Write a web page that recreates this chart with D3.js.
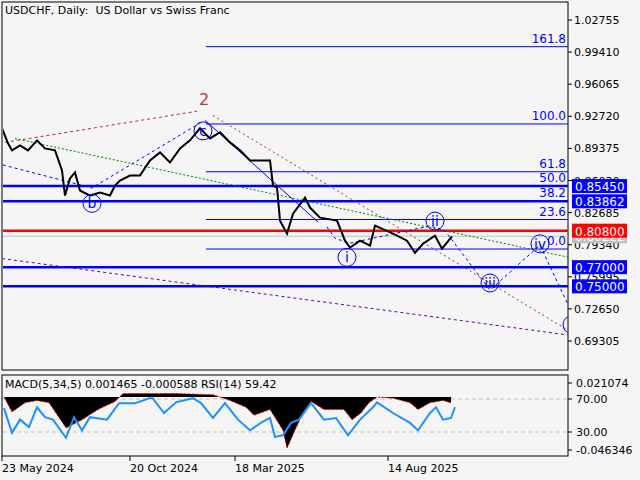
<!DOCTYPE html>
<html><head><meta charset="utf-8">
<script src="https://cdnjs.cloudflare.com/ajax/libs/d3/7.8.5/d3.min.js"></script>
<style>body{margin:0;background:#f5f5f5}svg{font-family:"DejaVu Sans",sans-serif}</style>
</head><body>
<script>
// bar index, close
var priceBars = [0,6,10,18,26,35,43,53,60,63,68,73,78,88,98,108,113,118,128,138,148,158,168,178,188,198,208,218,228,238,248,258,268,271,275,278,285,291,303,308,318,335,343,348,358,368,373,391,405,413,421,433,440,450];
var priceClose = [0.9147,0.8990,0.8917,0.8969,0.8917,0.9021,0.8937,0.8917,0.8708,0.8446,0.8624,0.8687,0.8499,0.8446,0.8478,0.8446,0.8551,0.8603,0.8655,0.8655,0.8812,0.8896,0.8791,0.8937,0.9021,0.9147,0.9042,0.9105,0.9000,0.8917,0.8812,0.8812,0.8812,0.8551,0.8530,0.8185,0.8049,0.8258,0.8425,0.8321,0.8216,0.8185,0.7976,0.7903,0.7976,0.7924,0.8133,0.8049,0.7976,0.7850,0.7944,0.8028,0.7892,0.8022];
var axisTicks = [1.02755,0.99410,0.96065,0.92720,0.89375,0.86030,0.82685,0.79340,0.75995,0.72650,0.69305];
var levelsBlue = [0.85450,0.83862,0.77000,0.75000];
var levelRed = 0.80800, lastPrice = 0.80222;
var fibNames = ["161.8","100.0","61.8","50.0","38.2","23.6","0.0"];
var fibRatio = [1.618,1,0.618,0.5,0.382,0.236,0];
var fibHigh = 0.9192, fibLow = 0.7889, fibStart = 204;
var dateBars = [0,128,233,386];
var dateLabels = ["23 May 2024","20 Oct 2024","18 Mar 2025","14 Aug 2025"];
var macdBars = [2,10,23,35,47,64,80,96,113,121,146,174,211,228,244,252,268,281,285,293,301,309,322,342,350,359,367,375,391,408,416,428,441,449];
var macdVals = [0,-0.0131,-0.005,-0.003,-0.005,-0.027,-0.020,-0.011,-0.004,0.003,0.003,0.003,0.002,-0.003,-0.009,-0.016,-0.011,-0.029,-0.045,-0.029,-0.014,-0.004,-0.011,-0.011,-0.020,-0.014,-0.005,0,-0.001,-0.005,-0.011,-0.005,-0.003,-0.005];
var rsiBars = [2,10,18,27,35,43,51,64,72,80,88,105,117,133,150,162,174,191,199,211,223,236,248,260,268,273,281,289,297,309,322,334,346,358,371,375,391,408,416,428,434,441,449,453];
var rsiVals = [59,29,45,36,60,48,45,23,48,32,48,45,65,65,72,53,66,71,65,47,65,45,32,42,47,24,26,41,45,65,45,47,26,45,60,66,53,41,32,53,60,45,47,60];
// wave path (bar, price)
var wavePath = [[1,0.8765],[90,0.8525],[201,0.9220]];
var waveSolid = [[203,0.9230],[316,0.8170]];
var waveDash2 = [[325,0.8120],[333,0.8000],[348,0.7950],[428,0.8130],[443,0.8080],[488,0.7460],[538,0.7930],[566,0.7310]];
var brownA = [[3,0.9000],[195,0.9325]], brownB = [[211,0.9280],[568,0.7030]];
var greenLine = [[13,0.9040],[568,0.7800]];
var purpleLine = [[0,0.7790],[568,0.6990]];
var waveLabels = [{t:"c",b:201,p:0.9120},{t:"b",b:90,p:0.8365},{t:"i",b:345,p:0.7802},{t:"ii",b:433,p:0.8180},{t:"iii",b:488,p:0.7535},{t:"iv",b:538,p:0.7943},{t:"",b:570,p:0.7100}];

var W = 640, H = 480;
var svg = d3.select("body").append("svg").attr("width", W).attr("height", H);
var x = d3.scaleLinear().domain([0, 566]).range([2, 568]);
var y = d3.scaleLinear().domain([0.69305, 1.02755]).range([341, 20]);
var line = d3.line().x(function(d){return x(d[0]);}).y(function(d){return y(d[1]);});

var main = svg.append("g");
main.append("rect").attr("x",2).attr("y",2).attr("width",566).attr("height",368).attr("fill","#f5f5f5").attr("stroke","#000");
var clip = svg.append("clipPath").attr("id","c1").append("rect").attr("x",3).attr("y",3).attr("width",565).attr("height",366);
var plot = main.append("g").attr("clip-path","url(#c1)");

// fib lines
fibRatio.forEach(function(r,i){
  var v = fibLow + (fibHigh-fibLow)*r;
  plot.append("line").attr("x1",x(fibStart)).attr("x2",568).attr("y1",y(v)).attr("y2",y(v)).attr("stroke","#0000ff").attr("stroke-width",1);
  main.append("text").attr("x",566).attr("y",y(v)-4).attr("text-anchor","end").attr("fill","#0000ff").attr("font-size",12).text(fibNames[i]);
});
levelsBlue.forEach(function(v){
  plot.append("line").attr("x1",2).attr("x2",568).attr("y1",y(v)).attr("y2",y(v)).attr("stroke","#0000ff").attr("stroke-width",2.5);
});
plot.append("line").attr("x1",2).attr("x2",568).attr("y1",y(lastPrice)).attr("y2",y(lastPrice)).attr("stroke","#c0c0c0");
plot.append("line").attr("x1",2).attr("x2",568).attr("y1",y(levelRed)).attr("y2",y(levelRed)).attr("stroke","#ff0000").attr("stroke-width",2.5);

plot.append("path").attr("d",line(brownA)).attr("fill","none").attr("stroke","#b03030").attr("stroke-dasharray","3,3");
plot.append("path").attr("d",line(brownB)).attr("fill","none").attr("stroke","#b03030").attr("stroke-dasharray","2,3");
plot.append("path").attr("d",line(greenLine)).attr("fill","none").attr("stroke","#008000").attr("stroke-dasharray","2,2");
plot.append("path").attr("d",line(purpleLine)).attr("fill","none").attr("stroke","#660099").attr("stroke-dasharray","3,3");
plot.append("path").attr("d",line(wavePath)).attr("fill","none").attr("stroke","#0000ff").attr("stroke-dasharray","3,3");
plot.append("path").attr("d",line(waveSolid)).attr("fill","none").attr("stroke","#0000ff");
plot.append("path").attr("d",line(waveDash2)).attr("fill","none").attr("stroke","#0000ff").attr("stroke-dasharray","3,3");

// price
var pts = priceBars.map(function(b,i){return [b, priceClose[i]];});
plot.append("path").attr("d",line(pts)).attr("fill","none").attr("stroke","#000").attr("stroke-width",2);

waveLabels.forEach(function(l){
  var g = plot.append("g").attr("transform","translate("+x(l.b)+","+y(l.p)+")");
  g.append("circle").attr("r",9).attr("fill","none").attr("stroke","#0000ff");
  g.append("text").attr("y",5).attr("text-anchor","middle").attr("fill","#0000ff").attr("font-size",14).text(l.t);
});
main.append("text").attr("x",x(202)).attr("y",y(0.9385)).attr("text-anchor","middle").attr("fill","#c03030").attr("font-size",16).text("2");
main.append("text").attr("x",5).attr("y",14).attr("font-size",11).attr("fill","#000").attr("xml:space","preserve").style("white-space","pre").text("USDCHF, Daily:  US Dollar vs Swiss Franc");

// right axis
axisTicks.forEach(function(v){
  svg.append("line").attr("x1",568).attr("x2",572).attr("y1",y(v)).attr("y2",y(v)).attr("stroke","#000");
  svg.append("text").attr("x",574).attr("y",y(v)+4).attr("font-size",11).text(v.toFixed(5));
});
function tag(v, fill){
  svg.append("rect").attr("x",572).attr("y",y(v)-7).attr("width",55).attr("height",14).attr("fill",fill);
  svg.append("text").attr("x",575).attr("y",y(v)+5).attr("font-size",12).attr("fill","#fff").text(v.toFixed(5));
}
tag(lastPrice,"#c0c0c0");
levelsBlue.forEach(function(v){tag(v,"#0000ff");});
tag(levelRed,"#ff0000");

// sub panel
var sub = svg.append("g");
sub.append("rect").attr("x",2).attr("y",375).attr("width",566).attr("height",81).attr("fill","#f5f5f5").attr("stroke","#000");
var ym = d3.scaleLinear().domain([-0.046346,0]).range([450,397]);
var yr = d3.scaleLinear().domain([30,70]).range([432,399]);
[70,30].forEach(function(v){
  sub.append("line").attr("x1",3).attr("x2",568).attr("y1",yr(v)).attr("y2",yr(v)).attr("stroke","#c0c0c0").attr("stroke-dasharray","4,3");
});
var mpts = macdBars.map(function(b,i){return [b, macdVals[i]];});
sub.append("path").attr("d",d3.area().x(function(d){return x(d[0]);}).y0(ym(0)).y1(function(d){return ym(d[1]);})(mpts)).attr("fill","#000");
sub.append("path").attr("d",d3.line().x(function(d){return x(d[0]);}).y(function(d){return ym(d[1]);})(mpts)).attr("fill","none").attr("stroke","#ff0000").attr("stroke-dasharray","2,2");
var rpts = rsiBars.map(function(b,i){return [b, rsiVals[i]];});
sub.append("path").attr("d",d3.line().x(function(d){return x(d[0]);}).y(function(d){return yr(d[1]);})(rpts)).attr("fill","none").attr("stroke","#1e90ff").attr("stroke-width",2);
sub.append("text").attr("x",5).attr("y",388).attr("font-size",11).text("MACD(5,34,5) 0.001465 -0.000588 RSI(14) 59.42");
[["0.021074",383],["70.00",yr(70)],["30.00",yr(30)],["-0.046346",450]].forEach(function(t){
  svg.append("line").attr("x1",568).attr("x2",572).attr("y1",t[1]).attr("y2",t[1]).attr("stroke","#000");
  svg.append("text").attr("x",576).attr("y",t[1]+4).attr("font-size",11).text(t[0]);
});
dateBars.forEach(function(b,i){
  svg.append("line").attr("x1",x(b)).attr("x2",x(b)).attr("y1",456).attr("y2",461).attr("stroke","#000");
  svg.append("text").attr("x",x(b)).attr("y",472).attr("font-size",11).text(dateLabels[i]);
});
</script>
</body></html>
